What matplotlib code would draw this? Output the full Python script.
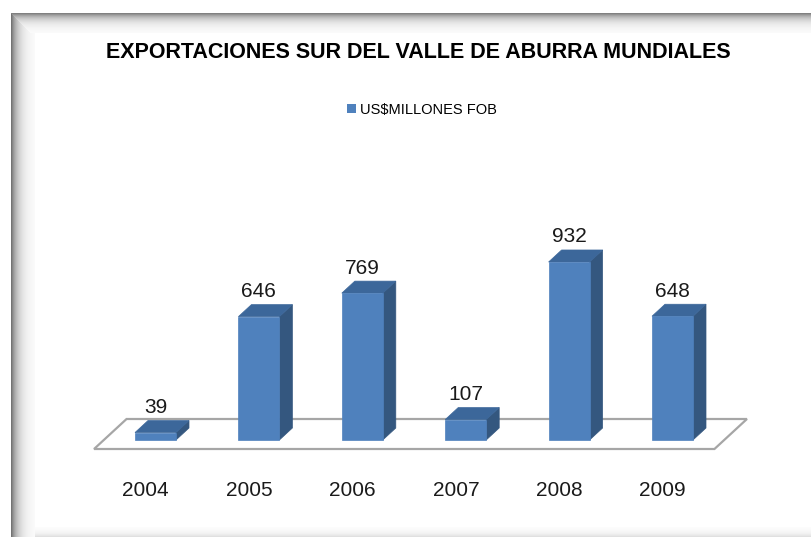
import numpy as np
import matplotlib.pyplot as plt
from matplotlib.patches import Polygon, Patch, Rectangle

# datos
anios = ['2004', '2005', '2006', '2007', '2008', '2009']
valores = [39, 646, 769, 107, 932, 648]
serie = 'US$MILLONES FOB'
titulo = 'EXPORTACIONES SUR DEL VALLE DE ABURRA MUNDIALES'

c_frente = '#4F81BD'
c_lado = '#34577F'
c_techo = '#3C679A'

W, H = 811, 537
fig = plt.figure(figsize=(W / 100, H / 100), dpi=100)

# fondo con sombra interior (marco del grafico), en pixeles
bg = fig.add_axes([0, 0, 1, 1])
bg.set_xlim(0, W)
bg.set_ylim(H, 0)
bg.axis('off')
for k in range(24):
    g = 1 - 0.55 * np.exp(-k / 7.0)
    bg.add_patch(Rectangle((11 + k, 13 + min(k, 0)), 1, H, facecolor=(g, g, g), lw=0))
for k in range(20):
    g = 1 - 0.5 * np.exp(-k / 6.0)
    bg.add_patch(Rectangle((11 + k, 13 + k), W, 1, facecolor=(g, g, g), lw=0))
for k in range(10):
    g = 1 - 0.12 * np.exp(-k / 4.0)
    bg.add_patch(Rectangle((11 + 24, H - 1 - k), W, 1, facecolor=(g, g, g), lw=0))

# ejes principales: x = categoria, y = valor
ax = fig.add_axes([0, 0, 1, 1])
ax.patch.set_alpha(0)
px_cat = 103.4   # pixeles por categoria
px_val = 0.191   # pixeles por unidad
x_cero, y_cero = 155.5, 440.0
ax.set_xlim(-x_cero / px_cat, (W - x_cero) / px_cat)
ax.set_ylim((y_cero - H) / px_val, y_cero / px_val)
ax.axis('off')

dx = 13 / px_cat   # profundidad 3D
dy = 12 / px_val
mw = 20.5 / px_cat  # media anchura de barra
n = len(valores)

# piso
piso = [(-0.5 - 0.75 * dx, -0.75 * dy), (n - 0.5 - 0.75 * dx, -0.75 * dy),
        (n - 0.5 + 1.75 * dx, 1.75 * dy), (-0.5 + 1.75 * dx, 1.75 * dy)]
ax.add_patch(Polygon(piso, closed=True, facecolor='white', edgecolor='#A6A6A6',
                     lw=1.6, zorder=1))

for i, v in enumerate(valores):
    l, r = i - mw, i + mw
    frente = [(l, 0), (r, 0), (r, v), (l, v)]
    lado = [(r, 0), (r + dx, dy), (r + dx, v + dy), (r, v)]
    techo = [(l, v), (r, v), (r + dx, v + dy), (l + dx, v + dy)]
    ax.add_patch(Polygon(lado, closed=True, facecolor=c_lado, edgecolor=c_lado, lw=0.5, zorder=2))
    ax.add_patch(Polygon(techo, closed=True, facecolor=c_techo, edgecolor=c_techo, lw=0.5, zorder=2))
    ax.add_patch(Polygon(frente, closed=True, facecolor=c_frente, edgecolor=c_frente, lw=0.5, zorder=3))
    ax.annotate(str(v), (i, v), xytext=(0, 18), textcoords='offset points',
                ha='center', va='center', fontsize=15, family='Liberation Sans',
                color='#1a1a1a')
    ax.text(i - 0.75 * dx, (y_cero - 491) / px_val, anios[i], ha='center', va='center',
            fontsize=15, family='Liberation Sans', color='#1a1a1a')

fig.text(418 / W, 1 - 52 / H, titulo, ha='center', va='center', fontsize=15.5,
         fontweight='bold', family='Liberation Sans', color='black')

fig.legend(handles=[Patch(facecolor=c_frente, label=serie)], loc='center',
           bbox_to_anchor=(422 / W, 1 - 110 / H), frameon=False, handlelength=0.6,
           handleheight=0.6, handletextpad=0.3,
           prop={'family': 'Liberation Sans', 'size': 10.5})

fig.savefig('out.png', dpi=100)
